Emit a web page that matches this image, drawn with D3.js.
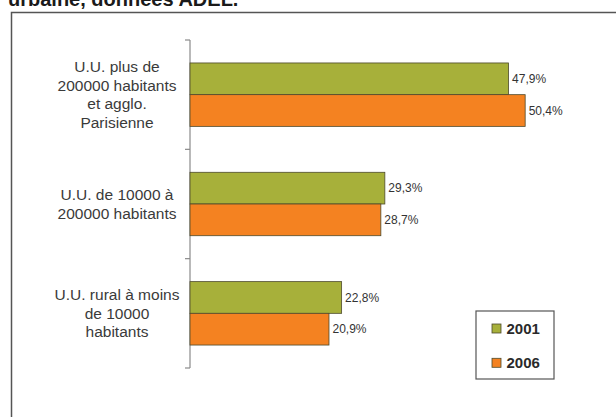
<!DOCTYPE html>
<html>
<head>
<meta charset="utf-8">
<script src="https://cdn.jsdelivr.net/npm/d3@7"></script>
<style>
  html, body { margin: 0; padding: 0; background: #fff; }
  svg { display: block; }
</style>
</head>
<body>
<svg id="chart" width="616" height="417"></svg>
<script>
// Categories (urban unit size) and their wrapped label lines
const categories = [
  "U.U. plus de 200000 habitants et agglo. Parisienne",
  "U.U. de 10000 à 200000 habitants",
  "U.U. rural à moins de 10000 habitants"
];
const categoryLines = [
  ["U.U. plus de", "200000 habitants", "et agglo.", "Parisienne"],
  ["U.U. de 10000 à", "200000 habitants"],
  ["U.U. rural à moins", "de 10000", "habitants"]
];
const seriesNames = ["2001", "2006"];
const values2001 = [47.9, 29.3, 22.8];
const values2006 = [50.4, 28.7, 20.9];
const valueLabels2001 = ["47,9%", "29,3%", "22,8%"];
const valueLabels2006 = ["50,4%", "28,7%", "20,9%"];
const titleText = "urbaine, données ADEL.";

const colors = { "2001": "#a7b03a", "2006": "#f48221" };
const font = "Liberation Sans, Arial, Helvetica, sans-serif";

const svg = d3.select("#chart");

// Title (its upper part runs off the top edge)
svg.append("text")
  .attr("x", 8).attr("y", 6)
  .attr("font-family", font)
  .attr("font-weight", "bold")
  .attr("font-size", 20)
  .attr("fill", "#1a1a1a")
  .text(titleText);

// Chart frame
svg.append("path")
  .attr("d", "M11.5,417 V12.5 H616")
  .attr("fill", "none")
  .attr("stroke", "#555")
  .attr("stroke-width", 1.5);

const rows = categories.map((c, i) => ({
  cat: c,
  lines: categoryLines[i],
  vals: [
    { s: "2001", v: values2001[i], label: valueLabels2001[i] },
    { s: "2006", v: values2006[i], label: valueLabels2006[i] }
  ]
}));

const x = d3.scaleLinear().domain([0, 60]).range([190, 589]);
const y0 = d3.scaleBand().domain(categories).range([40, 368])
  .paddingInner(0.42).paddingOuter(0.21);
const y1 = d3.scaleBand().domain(seriesNames).range([0, y0.bandwidth()]);

// Category axis line with ticks at band boundaries
const step = y0.step();
const boundaries = d3.range(categories.length + 1).map(i => 40 + i * step);
const axis = svg.append("g");
axis.append("line")
  .attr("x1", x(0)).attr("x2", x(0))
  .attr("y1", boundaries[0]).attr("y2", boundaries[boundaries.length - 1])
  .attr("stroke", "#8a8a8a").attr("stroke-width", 1.2);
axis.selectAll("line.tick").data(boundaries).join("line")
  .attr("class", "tick")
  .attr("x1", x(0) - 5).attr("x2", x(0))
  .attr("y1", d => d).attr("y2", d => d)
  .attr("stroke", "#8a8a8a").attr("stroke-width", 1.2);

// Category labels
const lineH = 18.5;
const catG = svg.append("g")
  .attr("font-family", font)
  .attr("font-size", 15.5)
  .attr("fill", "#3a3a3a")
  .attr("text-anchor", "middle");
rows.forEach(r => {
  const cy = y0(r.cat) + y0.bandwidth() / 2;
  const n = r.lines.length;
  catG.append("text")
    .selectAll("tspan").data(r.lines).join("tspan")
    .attr("x", 117)
    .attr("y", (d, i) => cy + (i - (n - 1) / 2) * lineH)
    .attr("dy", "0.35em")
    .text(d => d);
});

// Bars
const groups = svg.selectAll("g.grp").data(rows).join("g")
  .attr("class", "grp")
  .attr("transform", d => `translate(0,${y0(d.cat)})`);

groups.selectAll("rect").data(d => d.vals).join("rect")
  .attr("x", x(0))
  .attr("y", d => y1(d.s))
  .attr("width", d => x(d.v) - x(0))
  .attr("height", y1.bandwidth())
  .attr("fill", d => colors[d.s])
  .attr("stroke", "#4d4a2c")
  .attr("stroke-width", 0.8);

groups.selectAll("text").data(d => d.vals).join("text")
  .attr("x", d => x(d.v) + 3.5)
  .attr("y", d => y1(d.s) + y1.bandwidth() / 2)
  .attr("dy", "0.35em")
  .attr("font-family", font)
  .attr("font-size", 12)
  .attr("fill", "#333")
  .text(d => d.label);

// Legend
const leg = svg.append("g");
leg.append("rect")
  .attr("x", 476).attr("y", 311)
  .attr("width", 78).attr("height", 68)
  .attr("fill", "#fff")
  .attr("stroke", "#555").attr("stroke-width", 1.2);
seriesNames.forEach((s, i) => {
  const cy = 328.5 + i * 34.3;
  leg.append("rect")
    .attr("x", 492).attr("y", cy - 4.5)
    .attr("width", 9).attr("height", 9)
    .attr("fill", colors[s])
    .attr("stroke", "#4d4a2c").attr("stroke-width", 0.8);
  leg.append("text")
    .attr("x", 506.5).attr("y", cy)
    .attr("dy", "0.36em")
    .attr("font-family", font)
    .attr("font-weight", "bold")
    .attr("font-size", 15)
    .attr("fill", "#2a2a2a")
    .text(s);
});
</script>
</body>
</html>
